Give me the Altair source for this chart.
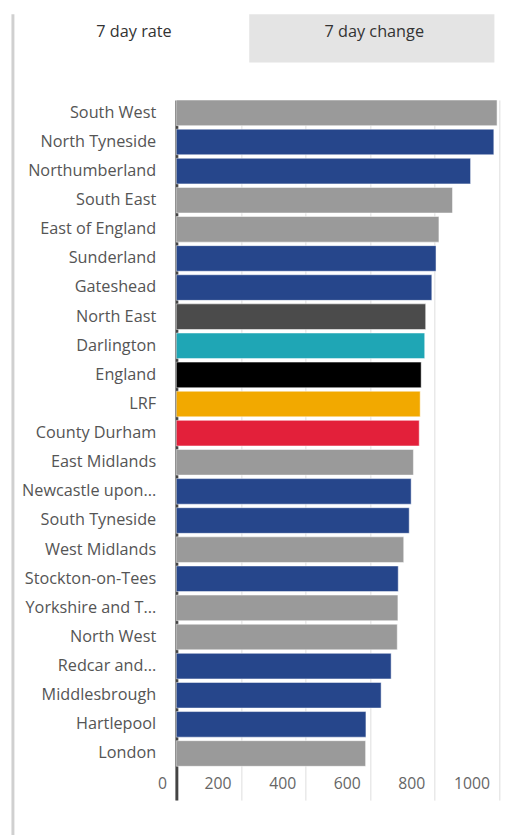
import altair as alt
import pandas as pd

names = ["South West", "North Tyneside", "Northumberland", "South East", "East of England",
         "Sunderland", "Gateshead", "North East", "Darlington", "England", "LRF", "County Durham",
         "East Midlands", "Newcastle upon...", "South Tyneside", "West Midlands", "Stockton-on-Tees",
         "Yorkshire and T...", "North West", "Redcar and...", "Middlesbrough", "Hartlepool", "London"]
values = [993, 983, 911, 855, 813, 804, 791, 772, 769, 758, 755, 752,
          734, 727, 721, 704, 687, 686, 684, 665, 634, 587, 586]
groups = ["Region", "Local authority", "Local authority", "Region", "Region",
          "Local authority", "Local authority", "North East", "Darlington", "England", "LRF", "County Durham",
          "Region", "Local authority", "Local authority", "Region", "Local authority",
          "Region", "Region", "Local authority", "Local authority", "Local authority", "Region"]
group_names = ["Region", "Local authority", "North East", "Darlington", "England", "LRF", "County Durham"]
group_colors = ["#9a9a9a", "#26468b", "#4b4b4b", "#1fa6b5", "#000000", "#f2a900", "#e3203a"]
x_ticks = [0, 200, 400, 600, 800, 1000]
tab_labels = ["7 day rate", "7 day change"]

df = pd.DataFrame({"area": names, "rate": values, "group": groups})

FONT = "Open Sans"
W, H = 328, 711
TOP = 87

bars = alt.Chart(df).mark_bar(stroke="#ffffff", strokeWidth=0.5).encode(
    y=alt.Y("area:N", sort=names, title=None,
            scale=alt.Scale(paddingInner=0.12, paddingOuter=0.58, align=0),
            axis=alt.Axis(ticks=False, labelPadding=21, labelFontSize=16.5, labelColor="#555555",
                          labelFont=FONT, domainColor="#444444", domainWidth=3, labelLimit=200)),
    x=alt.X("rate:Q", title=None,
            scale=alt.Scale(domain=[0, 1000], nice=False),
            axis=alt.Axis(values=x_ticks, format="d", ticks=False, tickSize=0, domain=False, grid=True,
                          gridColor="#dddddd", labelAlign="right", labelOffset=-10, labelPadding=-25,
                          labelFontSize=16, labelColor="#666666", labelFont=FONT, labelFlush=False)),
    color=alt.Color("group:N", scale=alt.Scale(domain=group_names, range=group_colors), legend=None),
)

one = alt.Data(values=[{"a": 1}])

frame_left = alt.Chart(one).mark_rule(color="#d0d0d0", strokeWidth=3).encode(
    x=alt.value(-166), y=alt.value(-TOP), y2=alt.value(H + 40))
tab2 = alt.Chart(one).mark_rect(color="#e4e4e4").encode(
    x=alt.value(74), x2=alt.value(323), y=alt.value(-TOP), y2=alt.value(-38))
t1 = alt.Chart(one).mark_text(font=FONT, fontSize=16.5, color="#333333").encode(
    x=alt.value(-43), y=alt.value(-69), text=alt.value(tab_labels[0]))
t2 = alt.Chart(one).mark_text(font=FONT, fontSize=16.5, color="#333333").encode(
    x=alt.value(201), y=alt.value(-69), text=alt.value(tab_labels[1]))

chart = alt.layer(frame_left, tab2, t1, t2, bars).properties(
    width=W, height=H,
    padding={"left": 171, "top": TOP, "right": 21, "bottom": 29},
    autosize=alt.AutoSizeParams(type="none"),
).configure_view(stroke=None)

chart.save("out.html", embed_options={"renderer": "svg", "actions": False})
